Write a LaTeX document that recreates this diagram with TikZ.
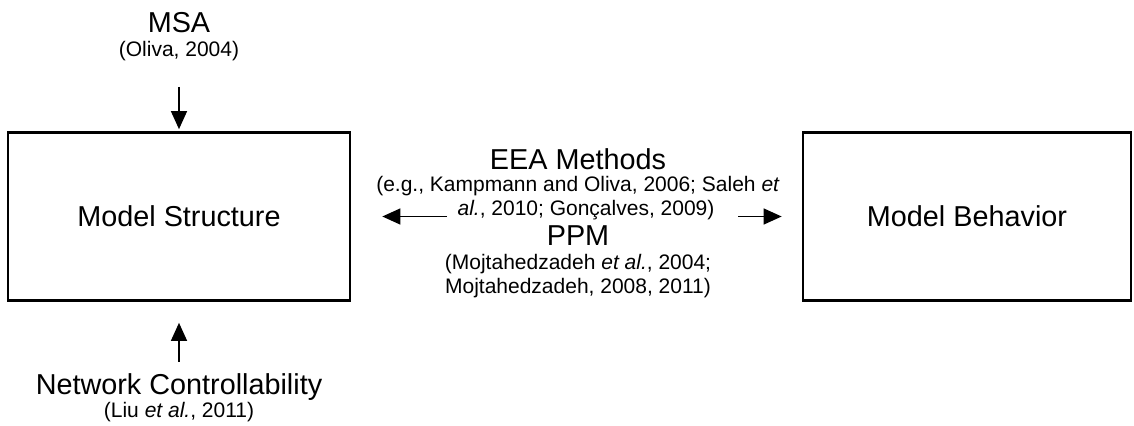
\documentclass[tikz,border=0pt]{standalone}
\usepackage{fontspec}
\setmainfont{Liberation Sans}
\usetikzlibrary{arrows.meta}

\begin{document}
\begin{tikzpicture}[x=0.5pt,y=-0.5pt,
  big/.style={font=\fontsize{14.4}{17}\selectfont,inner sep=0pt,anchor=base},
  small/.style={font=\fontsize{10.5}{12}\selectfont,inner sep=0pt,anchor=base},
  box/.style={draw,line width=1.35pt,inner sep=0pt,font=\fontsize{14.4}{17}\selectfont},
  arr/.style={line width=0.65pt,-{Triangle[length=9pt,width=8pt]}}]
\useasboundingbox (0,0) rectangle (1134,426);
%% Boxes
\node[box,minimum width=171pt,minimum height=84pt] (struct) at (179,216.5) {Model Structure};
\node[box,minimum width=164pt,minimum height=84pt] (behav) at (967,216.5) {Model Behavior};

%% MSA (top)
\node[big] (msa) at (179,33) {MSA};
\node[small] (msacite) at (179,57) {(Oliva, 2004)};
\coordinate (msatail) at (179,87);
\draw[arr,shorten >=1pt] (msatail) -- (struct.north);

%% Network controllability (bottom)
\node[big] (netctrl) at (179,395) {Network Controllability};
\node[small] (netcite) at (179,418) {(Liu \textit{et al.}, 2011)};
\coordinate (nctail) at (179,362);
\draw[arr,shorten >=10.5pt] (nctail) -- (struct.south);

%% EEA and PPM (middle)
\node[big] (eea) at (578,170) {EEA Methods};
\node[small] (eeacite1) at (578,192) {(e.g., Kampmann and Oliva, 2006; Saleh \textit{et}};
\node[small] (eeacite2) at (586,216) {\textit{al.}, 2010; Gonçalves, 2009)};
\node[big] (ppm) at (578,246) {PPM};
\node[small] (ppmcite1) at (578,270) {(Mojtahedzadeh \textit{et al.}, 2004;};
\node[small] (ppmcite2) at (578,294) {Mojtahedzadeh, 2008, 2011)};
\coordinate (ltail) at (447,216.5);
\coordinate (rtail) at (738,216.5);
\draw[arr,shorten >=15.5pt] (ltail) -- (struct.east);
\draw[arr,shorten >=10pt] (rtail) -- (behav.west);
\end{tikzpicture}
\end{document}
